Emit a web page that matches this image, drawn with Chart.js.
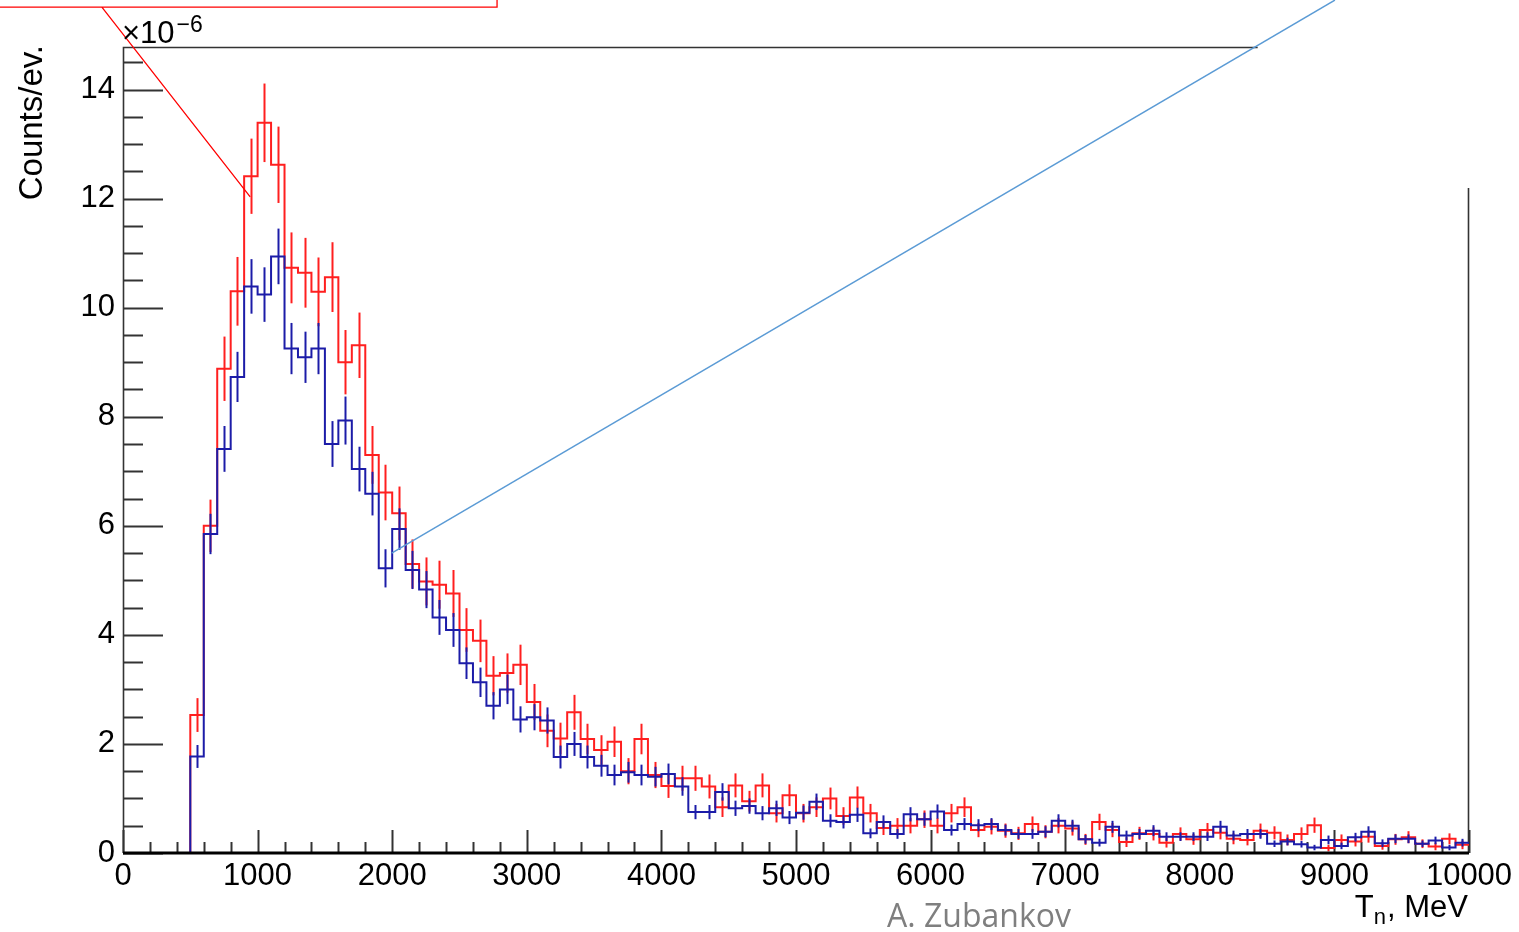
<!DOCTYPE html>
<html>
<head>
<meta charset="utf-8">
<script src="https://cdn.jsdelivr.net/npm/chart.js@4.4.0/dist/chart.umd.min.js"></script>
<style>
  html, body { margin: 0; padding: 0; background: #fff; }
  canvas { display: block; }
</style>
</head>
<body>
<canvas id="spectrum" width="1519" height="932"></canvas>
<script>
/* Neutron kinetic energy spectrum, two samples, ROOT-like look */

// histogram binning (MeV): first filled bin starts at binStart
const binStart = 500;
const binWidth = 100;

// counts per event, units of 1e-6, one value per bin
const redCounts = [
  2.53, 6.00, 8.88, 10.30, 12.41, 13.39, 12.62, 10.73, 10.64, 10.29,
  10.56, 9.00, 9.31, 7.30, 6.61, 6.23, 5.30, 4.98, 4.92, 4.76,
  4.09, 3.89, 3.25, 3.30, 3.45, 2.77, 2.24, 2.10, 2.58, 2.09,
  1.89, 2.04, 1.50, 2.09, 1.43, 1.23, 1.37, 1.37, 1.22, 0.84,
  1.24, 0.95, 1.24, 0.73, 1.06, 0.73, 0.84, 1.00, 0.68, 1.02,
  0.73, 0.46, 0.50, 0.50, 0.62, 0.50, 0.73, 0.84, 0.42, 0.48,
  0.41, 0.36, 0.53, 0.39, 0.50, 0.45, 0.25, 0.57, 0.42, 0.20,
  0.36, 0.35, 0.19, 0.35, 0.25, 0.42, 0.37, 0.26, 0.24, 0.41,
  0.37, 0.24, 0.35, 0.51, 0.09, 0.24, 0.21, 0.30, 0.13, 0.25,
  0.29, 0.17, 0.12, 0.26, 0.15
];
const redErrors = [
  0.31, 0.48, 0.59, 0.63, 0.69, 0.72, 0.70, 0.65, 0.64, 0.63,
  0.64, 0.59, 0.60, 0.53, 0.51, 0.49, 0.45, 0.44, 0.44, 0.43,
  0.40, 0.39, 0.36, 0.36, 0.37, 0.33, 0.30, 0.29, 0.32, 0.28,
  0.27, 0.28, 0.24, 0.28, 0.24, 0.22, 0.23, 0.23, 0.22, 0.18,
  0.22, 0.19, 0.22, 0.17, 0.20, 0.17, 0.18, 0.20, 0.16, 0.20,
  0.17, 0.13, 0.14, 0.14, 0.16, 0.14, 0.17, 0.18, 0.13, 0.14,
  0.13, 0.12, 0.14, 0.12, 0.14, 0.13, 0.10, 0.15, 0.13, 0.09,
  0.12, 0.12, 0.09, 0.12, 0.10, 0.13, 0.12, 0.10, 0.10, 0.13,
  0.12, 0.10, 0.12, 0.14, 0.06, 0.10, 0.09, 0.11, 0.07, 0.10,
  0.11, 0.08, 0.07, 0.10, 0.08
];
const blueCounts = [
  1.77, 5.85, 7.41, 8.73, 10.39, 10.24, 10.94, 9.25, 9.09, 9.25,
  7.50, 7.93, 7.04, 6.59, 5.22, 5.94, 5.19, 4.83, 4.32, 4.09,
  3.48, 3.13, 2.70, 3.00, 2.45, 2.49, 2.43, 1.76, 2.00, 1.76,
  1.60, 1.43, 1.48, 1.43, 1.40, 1.45, 1.22, 0.75, 0.75, 1.12,
  0.82, 0.86, 0.73, 0.82, 0.65, 0.74, 0.94, 0.59, 0.57, 0.70,
  0.36, 0.57, 0.35, 0.71, 0.62, 0.76, 0.42, 0.53, 0.51, 0.53,
  0.42, 0.35, 0.35, 0.39, 0.59, 0.50, 0.25, 0.19, 0.48, 0.32,
  0.35, 0.41, 0.30, 0.30, 0.30, 0.30, 0.48, 0.32, 0.35, 0.35,
  0.17, 0.21, 0.16, 0.10, 0.24, 0.13, 0.29, 0.39, 0.18, 0.26,
  0.26, 0.17, 0.23, 0.10, 0.19
];
const blueErrors = [
  0.21, 0.37, 0.42, 0.46, 0.50, 0.50, 0.51, 0.47, 0.47, 0.47,
  0.42, 0.44, 0.41, 0.40, 0.35, 0.38, 0.35, 0.34, 0.32, 0.31,
  0.29, 0.27, 0.25, 0.27, 0.24, 0.24, 0.24, 0.21, 0.22, 0.21,
  0.20, 0.19, 0.19, 0.19, 0.18, 0.19, 0.17, 0.13, 0.13, 0.16,
  0.14, 0.14, 0.13, 0.14, 0.12, 0.13, 0.15, 0.12, 0.12, 0.13,
  0.09, 0.12, 0.09, 0.13, 0.12, 0.13, 0.10, 0.11, 0.11, 0.11,
  0.10, 0.09, 0.09, 0.10, 0.12, 0.11, 0.08, 0.07, 0.11, 0.09,
  0.09, 0.10, 0.08, 0.08, 0.08, 0.08, 0.11, 0.09, 0.09, 0.09,
  0.06, 0.07, 0.06, 0.05, 0.08, 0.06, 0.08, 0.10, 0.07, 0.08,
  0.08, 0.06, 0.07, 0.05, 0.07
];

const xTickLabels = [0, 1000, 2000, 3000, 4000, 5000, 6000, 7000, 8000, 9000, 10000];
const yTickLabels = [0, 2, 4, 6, 8, 10, 12, 14];
const yMax = 14.78;

const RED = '#ff1f1f';
const BLUE = '#1c1ca8';
const AXIS = '#333';

// step outline: a point at every bin's low edge, plus the closing edge
function histPoints(counts) {
  const pts = [{ x: xTickLabels[0], y: 0 }];
  counts.forEach((v, i) => pts.push({ x: binStart + i * binWidth, y: v }));
  pts.push({ x: binStart + counts.length * binWidth, y: counts[counts.length - 1] });
  return pts;
}

const errorsByLabel = { red: [redCounts, redErrors], blue: [blueCounts, blueErrors] };

const rootLook = {
  id: 'rootLook',
  beforeDatasetsDraw(chart) {
    const { ctx, chartArea: a, scales: { x, y } } = chart;
    ctx.save();
    ctx.strokeStyle = AXIS;
    ctx.lineWidth = 2;
    // y ticks, inside the frame
    for (let v = 0; v <= yMax; v += 0.5) {
      const py = Math.round(y.getPixelForValue(v)) + 0.5;
      const len = yTickLabels.includes(v) ? 40 : 20;
      ctx.beginPath(); ctx.moveTo(a.left, py); ctx.lineTo(a.left + len, py); ctx.stroke();
    }
    // x ticks
    for (let v = xTickLabels[0]; v <= xTickLabels[xTickLabels.length - 1]; v += 200) {
      const px = Math.round(x.getPixelForValue(v)) + 0.5;
      const len = xTickLabels.includes(v) ? 23 : 11;
      ctx.beginPath(); ctx.moveTo(px, a.bottom); ctx.lineTo(px, a.bottom - len); ctx.stroke();
    }
    // frame: left, partial top and partial right
    ctx.lineWidth = 1.6;
    ctx.beginPath();
    ctx.moveTo(a.left + 0.5, a.bottom); ctx.lineTo(a.left + 0.5, a.top + 0.5);
    ctx.lineTo(a.left + (a.right - a.left) * 0.843, a.top + 0.5);
    ctx.moveTo(a.right - 0.5, a.top + (a.bottom - a.top) * 0.175); ctx.lineTo(a.right - 0.5, a.bottom);
    ctx.stroke();
    ctx.restore();
  },
  afterDatasetDraw(chart, args) {
    const ds = chart.data.datasets[args.index];
    const [counts, errs] = errorsByLabel[ds.label];
    const { ctx, chartArea: a, scales: { x, y } } = chart;
    ctx.save();
    ctx.beginPath();
    ctx.rect(a.left, a.top, a.right - a.left, a.bottom - a.top);
    ctx.clip();
    ctx.strokeStyle = ds.borderColor;
    ctx.lineWidth = 2;
    counts.forEach((v, i) => {
      if (v <= 0) return;
      const px = Math.round(x.getPixelForValue(binStart + (i + 0.5) * binWidth)) + 0.5;
      ctx.beginPath();
      ctx.moveTo(px, y.getPixelForValue(v - errs[i]));
      ctx.lineTo(px, y.getPixelForValue(v + errs[i]));
      ctx.stroke();
    });
    ctx.restore();
  },
  afterDraw(chart) {
    const { ctx, chartArea: a, scales: { x, y } } = chart;
    ctx.save();
    // thick x axis line
    ctx.strokeStyle = '#000';
    ctx.lineWidth = 3;
    ctx.beginPath(); ctx.moveTo(a.left, a.bottom); ctx.lineTo(a.right, a.bottom); ctx.stroke();

    // callouts from the slide
    ctx.strokeStyle = '#ff0000';
    ctx.lineWidth = 1.3;
    ctx.beginPath();
    ctx.moveTo(0, y.getPixelForValue(15.51));
    ctx.lineTo(x.getPixelForValue(2779), y.getPixelForValue(15.51));
    ctx.lineTo(x.getPixelForValue(2779), 0);
    ctx.moveTo(x.getPixelForValue(-157), y.getPixelForValue(15.51));
    ctx.lineTo(x.getPixelForValue(945), y.getPixelForValue(12.03));
    ctx.stroke();
    ctx.strokeStyle = '#5b9bd5';
    ctx.lineWidth = 1.5;
    ctx.beginPath();
    ctx.moveTo(x.getPixelForValue(1996), y.getPixelForValue(5.5));
    ctx.lineTo(x.getPixelForValue(9004), y.getPixelForValue(15.64));
    ctx.stroke();

    // texts
    ctx.fillStyle = '#000';
    ctx.textBaseline = 'alphabetic';
    ctx.textAlign = 'left';
    ctx.font = '31px "Liberation Sans"';
    ctx.fillText('\u00d710', a.left - 1, a.top - 4);
    const w10 = ctx.measureText('\u00d710').width;
    ctx.font = '23px "Liberation Sans"';
    ctx.fillText('\u22126', a.left + w10 + 1, a.top - 15);

    // y title, rotated, flush with the top
    ctx.save();
    ctx.translate(42, a.top - 2);
    ctx.rotate(-Math.PI / 2);
    ctx.textAlign = 'right';
    ctx.font = '33px "Liberation Sans"';
    ctx.fillText('Counts/ev.', 0, 0);
    ctx.restore();

    // x title T_n, MeV flush right
    const big = '31px "Liberation Sans"', small = '22px "Liberation Sans"';
    ctx.font = big;
    const wTail = ctx.measureText(', MeV').width;
    const wT = ctx.measureText('T').width;
    ctx.font = small;
    const wn = ctx.measureText('n').width;
    let xr = a.right - 1 - wTail;
    ctx.font = big;
    ctx.fillText(', MeV', xr, 917);
    ctx.font = small;
    ctx.fillText('n', xr - wn - 1, 924);
    ctx.font = big;
    ctx.fillText('T', xr - wn - 1 - wT, 917);

    // author
    ctx.fillStyle = '#7f7f7f';
    ctx.textAlign = 'center';
    ctx.font = '32px "Open Sans"';
    ctx.fillText('A. Zubankov', 979, 927);
    ctx.restore();
  }
};

new Chart(document.getElementById('spectrum'), {
  type: 'line',
  data: {
    datasets: [
      {
        label: 'red',
        data: histPoints(redCounts),
        borderColor: RED,
        borderWidth: 2,
        stepped: 'before',
        pointRadius: 0,
        fill: false,
        order: 2
      },
      {
        label: 'blue',
        data: histPoints(blueCounts),
        borderColor: BLUE,
        borderWidth: 2,
        stepped: 'before',
        pointRadius: 0,
        fill: false,
        order: 1
      }
    ]
  },
  options: {
    responsive: false,
    animation: false,
    layout: { padding: { top: 47, right: 50, bottom: 0, left: 0 } },
    plugins: { legend: { display: false }, tooltip: { enabled: false } },
    scales: {
      x: {
        type: 'linear',
        min: xTickLabels[0],
        max: xTickLabels[xTickLabels.length - 1],
        grid: { display: false, drawTicks: false },
        border: { display: false },
        afterBuildTicks: s => { s.ticks = xTickLabels.map(v => ({ value: v })); },
        afterFit: s => { s.height = 79; },
        ticks: {
          color: '#000',
          padding: 5,
          maxRotation: 0,
          autoSkip: false,
          font: { family: 'Liberation Sans', size: 31 },
          callback: v => String(v)
        }
      },
      y: {
        type: 'linear',
        min: 0,
        max: yMax,
        grid: { display: false, drawTicks: false },
        border: { display: false },
        afterBuildTicks: s => { s.ticks = yTickLabels.map(v => ({ value: v })); },
        afterFit: s => { s.width = 123; },
        ticks: {
          color: '#000',
          padding: 8,
          autoSkip: false,
          font: { family: 'Liberation Sans', size: 31 },
          callback: v => String(v)
        }
      }
    }
  },
  plugins: [rootLook]
});
</script>
</body>
</html>
